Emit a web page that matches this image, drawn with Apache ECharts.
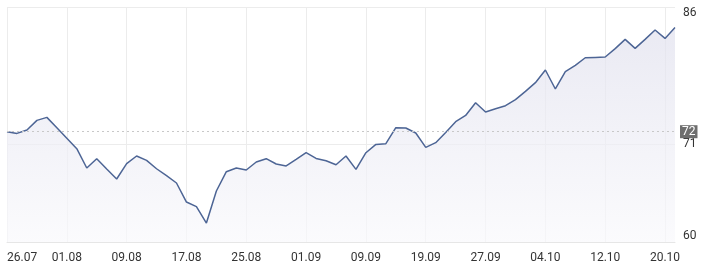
<!DOCTYPE html>
<html>
<head>
<meta charset="utf-8">
<script src="https://cdn.jsdelivr.net/npm/echarts@6/dist/echarts.min.js"></script>
<style>
html,body{margin:0;padding:0;background:#fff;}
#chart{width:707px;height:273px;}
</style>
</head>
<body>
<div id="chart"></div>
<script>
// Date tick labels shown every 6 points on the x axis
var tickLabels = ['26.07','01.08','09.08','17.08','25.08','01.09','09.09','19.09','27.09','04.10','12.10','20.10'];
var labelStep = 6;
// Price series (68 points)
var prices = [
  72.39, 72.20, 72.58, 73.66, 74.00, 72.84, 71.66, 70.48, 68.31, 69.36,
  68.20, 67.08, 68.80, 69.66, 69.17, 68.23, 67.45, 66.63, 64.49, 63.97,
  62.13, 65.73, 67.90, 68.31, 68.09, 68.99, 69.36, 68.76, 68.54, 69.28,
  70.03, 69.39, 69.13, 68.68, 69.66, 68.16, 70.03, 70.96, 71.04, 72.84,
  72.81, 72.25, 70.63, 71.16, 72.31, 73.51, 74.22, 75.65, 74.60, 74.97,
  75.31, 75.99, 76.92, 77.90, 79.32, 77.19, 79.13, 79.84, 80.70, 80.74,
  80.78, 81.72, 82.76, 81.75, 82.76, 83.82, 82.87, 84.11
];
// Y axis tick values
var yTicks = [60, 71, 86.4];
var yMin = 60, yMax = 86.4;
// Reference (start) value
var refValue = [72.39];

var categories = prices.map(function(_, i){ return String(i); });

var chart = echarts.init(document.getElementById('chart'), null, {renderer:'canvas'});
chart.setOption({
  animation: false,
  backgroundColor: '#fff',
  grid: {left: 7, right: 32, top: 7, bottom: 31, containLabel: false},
  xAxis: {
    type: 'category',
    boundaryGap: false,
    data: categories,
    axisLine: {show: true, lineStyle: {color: '#e6e6e6'}},
    axisTick: {show: false},
    axisLabel: {
      interval: labelStep - 1,
      margin: 10,
      color: '#333',
      fontFamily: 'Roboto',
      fontSize: 12,
      alignMinLabel: 'left',
      formatter: function(v, i){ return tickLabels[Math.round(Number(v) / labelStep)] || ''; }
    },
    splitLine: {show: true, interval: labelStep - 1, lineStyle: {color: '#ececec', width: 1}}
  },
  yAxis: {
    type: 'value',
    position: 'right',
    min: yMin,
    max: yMax,
    axisLine: {show: false},
    axisTick: {show: false, customValues: yTicks},
    axisLabel: {
      customValues: yTicks,
      margin: 8,
      color: '#333',
      fontFamily: 'Roboto',
      fontSize: 12,
      verticalAlignMinLabel: 'bottom',
      verticalAlignMaxLabel: 'top',
      formatter: function(v){ return String(Math.round(v)); }
    },
    splitLine: {show: true, lineStyle: {color: '#ececec', width: 1}}
  },
  series: [{
    type: 'line',
    data: prices,
    symbol: 'none',
    smooth: false,
    lineStyle: {color: '#4d6595', width: 1.5},
    areaStyle: {
      color: new echarts.graphic.LinearGradient(0, 0, 0, 1, [
        {offset: 0, color: '#e1e1ee'},
        {offset: 1, color: '#f9f9fc'}
      ])
    },
    markLine: {
      silent: true,
      symbol: ['none', 'none'],
      lineStyle: {color: '#c8c8c8', type: [2, 3], width: 1},
      label: {
        position: 'end',
        distance: 5,
        formatter: function(p){ return String(Math.round(p.value)); },
        color: '#fff',
        backgroundColor: '#6e6e6e',
        padding: [1, 2, 0, 2],
        fontFamily: 'Roboto',
        fontSize: 12
      },
      data: [{yAxis: refValue[0]}]
    }
  }]
});
</script>
</body>
</html>
